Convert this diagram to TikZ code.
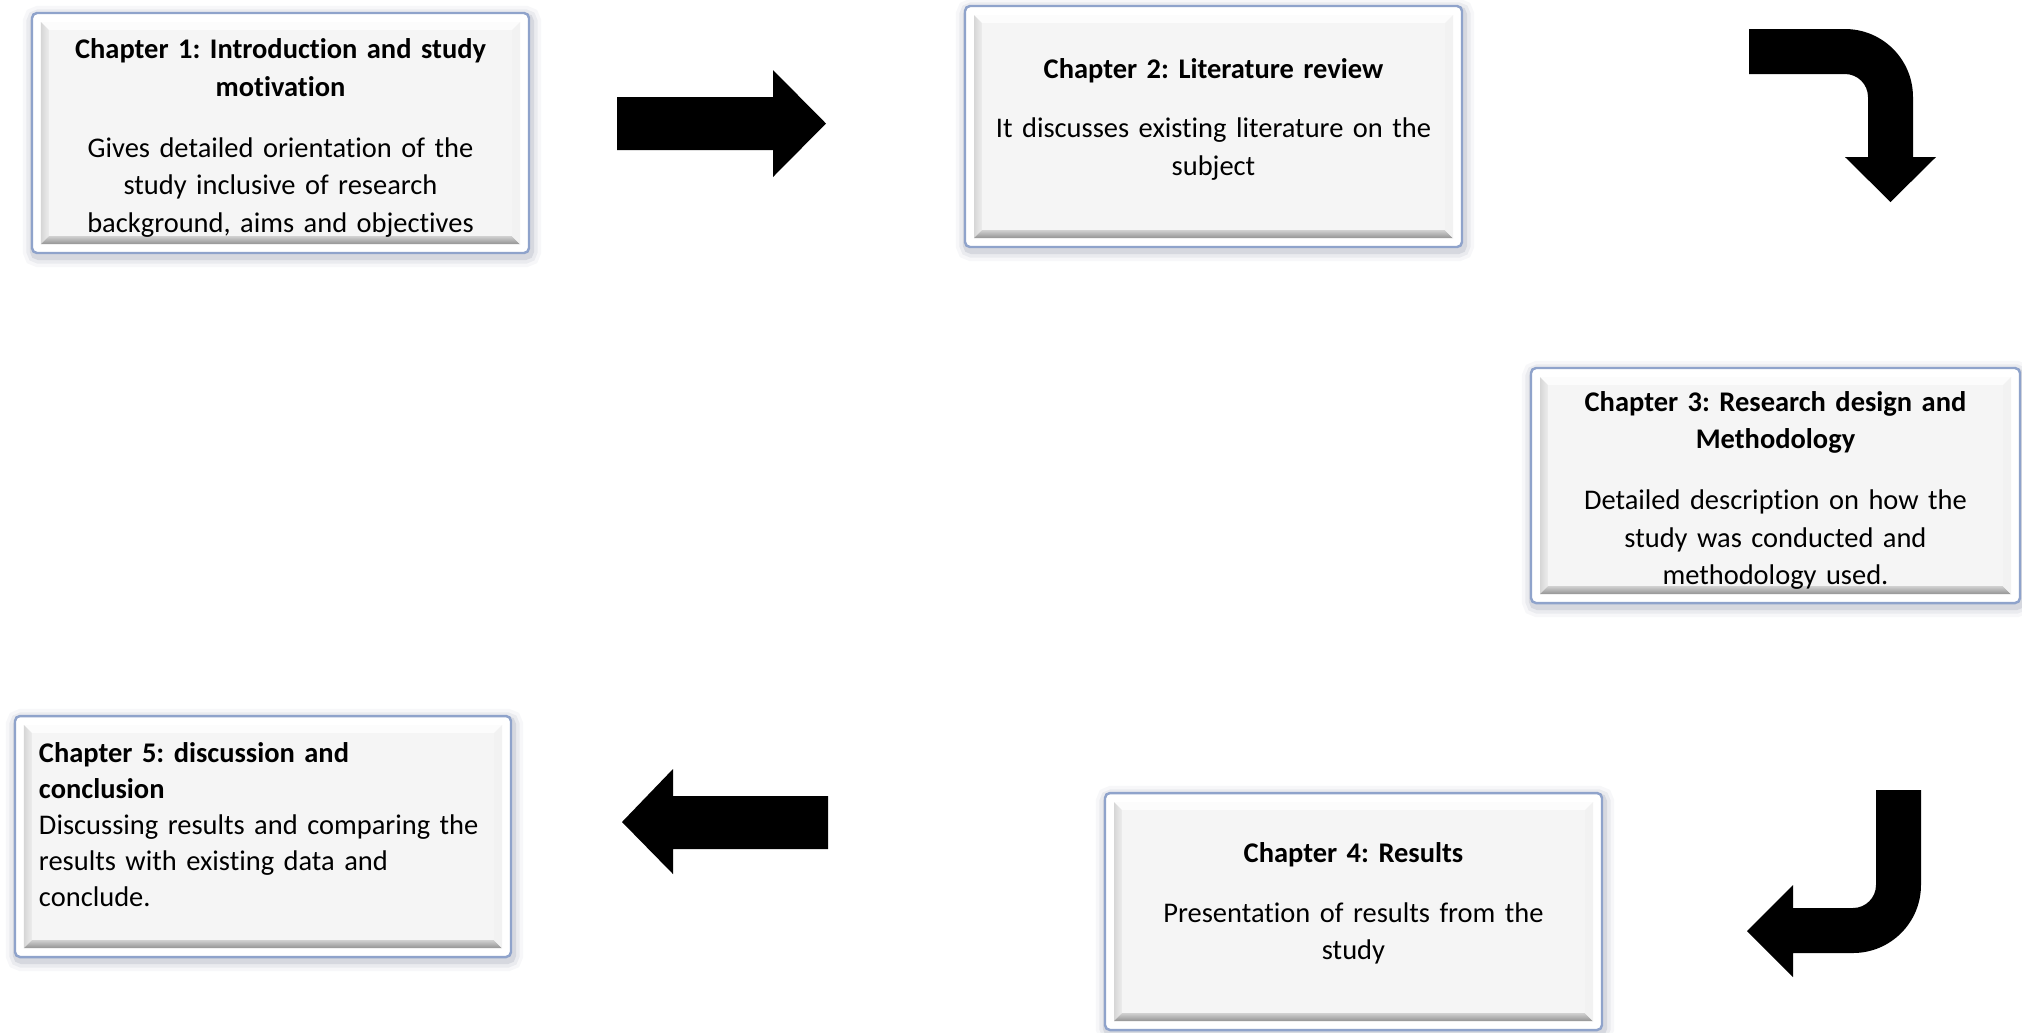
\documentclass[tikz,border=0pt]{standalone}
\usepackage{fontspec}
\setmainfont[Ligatures={NoCommon}]{Carlito}
\frenchspacing
\definecolor{bordc}{HTML}{8FA3CB}
\definecolor{shadc}{HTML}{7D8799}
\definecolor{facec}{HTML}{F5F5F5}
\definecolor{bevtopc}{HTML}{FCFCFC}
\definecolor{bevrightc}{HTML}{F2F2F2}
\newcommand\chapfont{\fontsize{8.1pt}{10.7pt}\selectfont\frenchspacing}
\newcommand\chapfontb{\fontsize{8.1pt}{10.24pt}\selectfont\frenchspacing}
\newcommand\trailsp[1]{\par\vspace{#1}\nointerlineskip\hbox{}}
\newcommand\chapbevel{%
  \coordinate (bNW) at ([shift={(0.09,-0.09)}]path picture bounding box.north west);
  \coordinate (bSE) at ([shift={(-0.09,0.09)}]path picture bounding box.south east);
  \coordinate (bnw) at ([shift={(0.08,-0.08)}]bNW);
  \coordinate (bse) at ([shift={(-0.08,0.08)}]bSE);
  \fill[sharp corners, bevtopc] (bNW) -- (bNW -| bSE) -- (bnw -| bse) -- (bnw) -- cycle;
  \shade[sharp corners, left color=black!16, right color=black!7] (bNW) -- (bnw) -- (bnw |- bse) -- (bNW |- bSE) -- cycle;
  \shade[sharp corners, top color=black!18, bottom color=black!42] (bNW |- bSE) -- (bnw |- bse) -- (bse) -- (bSE) -- cycle;
  \fill[sharp corners, bevrightc] (bNW -| bSE) -- (bSE) -- (bse) -- (bnw -| bse) -- cycle;
  \fill[sharp corners, facec] (bnw) rectangle (bse);
}
\tikzset{
  chapbox/.style={rectangle, rounded corners=0.05cm, draw=bordc, line width=0.7pt,
    fill=white, inner sep=0pt, font=\chapfont, text=black,
    preaction={draw=shadc, line width=6pt, opacity=0.06, transform canvas={shift={(0.015,-0.035)}}},
    preaction={draw=shadc, line width=4pt, opacity=0.10, transform canvas={shift={(0.015,-0.035)}}},
    preaction={draw=shadc, line width=2pt, opacity=0.18, transform canvas={shift={(0.015,-0.035)}}},
    path picture={\chapbevel}},
  blockarrow/.style={fill=black, draw=none}
}
\begin{document}
\begin{tikzpicture}
\useasboundingbox[fill=white] (0,0) rectangle (20.22,-10.32);

\node[chapbox, minimum width=4.97cm, minimum height=2.40cm, text width=4.85cm, align=center] (c1) at (2.805,-1.33)
  {\textbf{Chapter 1: Introduction and study\\motivation}\par\vspace{6.6pt}
   Gives detailed orientation of the\\study inclusive of research\\background, aims and objectives\trailsp{-2.8pt}};

\node[chapbox, minimum width=4.97cm, minimum height=2.41cm, text width=4.85cm, align=center] (c2) at (12.135,-1.265)
  {\textbf{Chapter 2: Literature review}\par\vspace{6.2pt}
   It discusses existing literature on the\\subject\trailsp{4.3pt}};

\node[chapbox, minimum width=4.89cm, minimum height=2.35cm, text width=4.75cm, align=center] (c3) at (17.755,-4.855)
  {\textbf{Chapter 3: Research design and\\Methodology}\par\vspace{6.6pt}
   Detailed description on how the\\study was conducted and\\methodology used.\trailsp{-2.8pt}};

\node[chapbox, minimum width=4.97cm, minimum height=2.37cm, text width=4.85cm, align=center] (c4) at (13.535,-9.115)
  {\textbf{Chapter 4: Results}\par\vspace{6.4pt}
   Presentation of results from the\\study\trailsp{4.6pt}};

\node[chapbox, minimum width=4.96cm, minimum height=2.41cm, text width=4.48cm, align=left, font=\chapfontb] (c5) at (2.63,-8.365)
  {\textbf{Chapter 5: discussion and\\conclusion}\\
   Discussing results and comparing the\\results with existing data and\\conclude.\trailsp{6.8pt}};

% straight arrow 1 -> 2
\fill[blockarrow] (6.17,-0.97) -- (7.73,-0.97) -- (7.73,-0.70) -- (8.26,-1.235) -- (7.73,-1.77)
  -- (7.73,-1.50) -- (6.17,-1.50) -- cycle;

% bent arrow 2 -> 3
\fill[blockarrow] (17.49,-0.29) -- (18.45,-0.29) arc[start angle=90, end angle=0, radius=0.68]
  -- (19.13,-1.57) -- (19.36,-1.57) -- (18.905,-2.02) -- (18.45,-1.57) -- (18.68,-1.57)
  -- (18.68,-0.97) arc[start angle=0, end angle=90, radius=0.23] -- (17.49,-0.74) -- cycle;

% bent arrow 3 -> 4
\fill[blockarrow] (18.76,-7.90) -- (19.21,-7.90) -- (19.21,-8.85) arc[start angle=0, end angle=-90, radius=0.68]
  -- (17.93,-9.53) -- (17.93,-9.77) -- (17.47,-9.31) -- (17.93,-8.85) -- (17.93,-9.08) -- (18.53,-9.08)
  arc[start angle=-90, end angle=0, radius=0.23] -- cycle;

% straight arrow 4 -> 5
\fill[blockarrow] (8.28,-7.96) -- (6.73,-7.96) -- (6.73,-7.69) -- (6.22,-8.22) -- (6.73,-8.74)
  -- (6.73,-8.49) -- (8.28,-8.49) -- cycle;
\end{tikzpicture}
\end{document}
